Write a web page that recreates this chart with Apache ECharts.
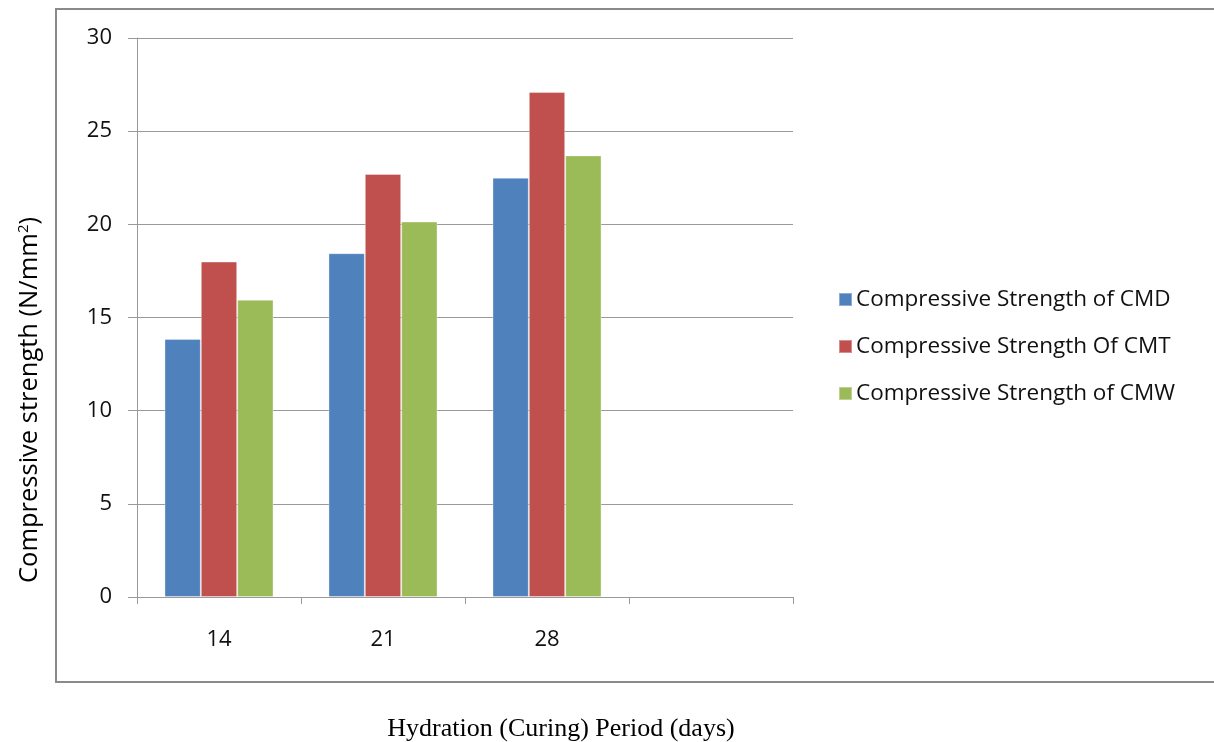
<!DOCTYPE html>
<html>
<head>
<meta charset="utf-8">
<script src="https://cdn.jsdelivr.net/npm/echarts@6/dist/echarts.min.js"></script>
<style>html,body{margin:0;padding:0;background:#fff}#c{width:1214px;height:742px}</style>
</head>
<body>
<div id="c"></div>
<script>
const categories = ['14', '21', '28', ''];
const cmd = [13.85, 18.45, 22.5, null];
const cmt = [18.0, 22.7, 27.1, null];
const cmw = [15.95, 20.15, 23.7, null];
const seriesNames = ['Compressive Strength of CMD', 'Compressive Strength Of CMT', 'Compressive Strength of CMW'];
const colors = ['#4F81BD', '#C0504D', '#9BBB59'];
const yTitle = 'Compressive strength (N/mm{sup|2})';
const xTitle = 'Hydration (Curing) Period (days)';

const chart = echarts.init(document.getElementById('c'), null, {renderer: 'canvas'});
const font = 'Open Sans';
const mk = (name, data, i) => ({
  name, type: 'bar', data,
  barGap: '0%', barCategoryGap: '33.5%',
  itemStyle: {color: colors[i], borderColor: 'rgba(255,255,255,0.35)', borderWidth: 1},
  animation: false
});
chart.setOption({
  animation: false,
  color: colors,
  grid: {left: 137, right: 421, top: 38, bottom: 145, containLabel: false},
  legend: {
    orient: 'vertical', left: 833, top: 283, itemGap: 24,
    itemWidth: 13, itemHeight: 13, icon: 'rect',
    textStyle: {fontFamily: font, fontSize: 22.5, color: '#111', padding: [0,0,0,-1]},
    data: seriesNames
  },
  xAxis: {
    type: 'category', data: categories,
    axisLine: {lineStyle: {color: '#9a9a9a', width: 1}},
    axisTick: {show: true, length: 7, lineStyle: {color: '#9a9a9a'}},
    axisLabel: {margin: 32, fontFamily: font, fontSize: 22, color: '#111'},
    splitLine: {show: false}
  },
  yAxis: {
    type: 'value', min: 0, max: 30, interval: 5,
    axisLine: {show: true, lineStyle: {color: '#9a9a9a', width: 1}},
    axisTick: {show: true, length: 9, lineStyle: {color: '#9a9a9a'}},
    axisLabel: {margin: 25, fontFamily: font, fontSize: 22, color: '#111'},
    splitLine: {show: true, lineStyle: {color: '#9a9a9a', width: 1}}
  },
  graphic: [
    {type: 'rect', shape: {x: 56, y: 9, width: 1200, height: 673},
     style: {fill: 'none', stroke: '#8a8a8a', lineWidth: 2}, silent: true, z: -10},
    {type: 'text', x: 30, y: 400, rotation: Math.PI/2,
     style: {text: yTitle, fontFamily: font, fontSize: 25.5, fill: '#000',
       align: 'center', verticalAlign: 'middle',
       rich: {sup: {fontFamily: font, fontSize: 15, verticalAlign: 'top', padding: [0,0,12,0], fill: '#000'}}}},
    {type: 'text', x: 561, y: 729,
     style: {text: xTitle, fontFamily: 'Liberation Serif', fontSize: 26, fill: '#000',
       align: 'center', verticalAlign: 'middle'}}
  ],
  series: [mk(seriesNames[0], cmd, 0), mk(seriesNames[1], cmt, 1), mk(seriesNames[2], cmw, 2)]
});
</script>
</body>
</html>
